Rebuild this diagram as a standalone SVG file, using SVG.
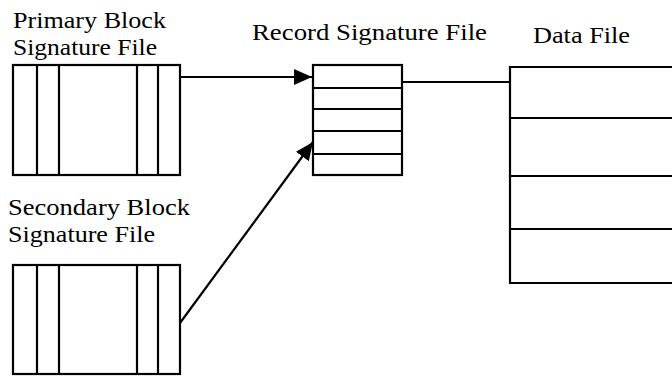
<svg xmlns="http://www.w3.org/2000/svg" width="672" height="376" viewBox="0 0 672 376">
<style>
.t{font-family:"Liberation Serif","Times New Roman",serif;font-size:24px;fill:#000}
.b{fill:none;stroke:#000;stroke-width:2.2}
.c{fill:none;stroke:#000;stroke-width:2.2}
</style>
<defs>
<marker id="ah" markerUnits="userSpaceOnUse" markerWidth="20" markerHeight="16" refX="18" refY="8" orient="auto">
<path d="M0,0 L18,8 L0,16 Z" fill="#000"/>
</marker>
</defs>
<rect width="672" height="376" fill="#fff"/>
<g id="primary">
<text class="t" x="13" y="28" textLength="153" lengthAdjust="spacingAndGlyphs">Primary Block</text>
<text class="t" x="13" y="55" textLength="144" lengthAdjust="spacingAndGlyphs">Signature File</text>
<rect class="b" x="13" y="65" width="167" height="110"/>
<path class="b" d="M37,65V175M59,65V175M137,65V175M158,65V175"/>
</g>
<g id="secondary">
<text class="t" x="8" y="215" textLength="182" lengthAdjust="spacingAndGlyphs">Secondary Block</text>
<text class="t" x="8" y="242" textLength="147" lengthAdjust="spacingAndGlyphs">Signature File</text>
<rect class="b" x="13" y="265" width="167" height="109"/>
<path class="b" d="M37,265V374M59,265V374M137,265V374M158,265V374"/>
</g>
<g id="record">
<text class="t" x="252" y="40" textLength="235" lengthAdjust="spacingAndGlyphs">Record Signature File</text>
<rect class="b" x="313" y="65" width="89" height="110"/>
<path class="b" d="M313,88H402M313,109H402M313,131H402M313,154H402"/>
</g>
<g id="data">
<text class="t" x="533" y="43" textLength="97" lengthAdjust="spacingAndGlyphs">Data File</text>
<path class="b" d="M672,67H510V283H672"/>
<path class="b" d="M510,118H672M510,176H672M510,229H672"/>
</g>
<g id="connectors">
<path class="c" d="M180,77H312" marker-end="url(#ah)"/>
<path class="c" d="M180,323L313,142" marker-end="url(#ah)"/>
<path class="c" d="M402,82H510"/>
</g>
</svg>
